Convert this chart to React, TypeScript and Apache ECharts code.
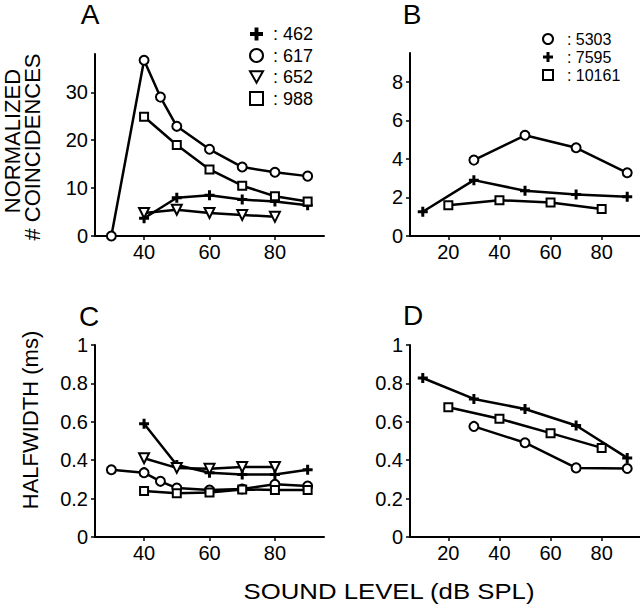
import React, { useEffect, useRef } from "react";
import * as echarts from "echarts";

// ---------- data ----------
// Panel A: normalized # coincidences (low CF units)
const a462X = [40, 50, 60, 70, 80, 90];
const a462Y = [3.7, 8.0, 8.5, 7.6, 7.2, 6.4];
const a617X = [30, 40, 45, 50, 60, 70, 80, 90];
const a617Y = [0, 36.7, 29.0, 22.9, 18.1, 14.4, 13.3, 12.5];
const a652X = [40, 50, 60, 70, 80];
const a652Y = [4.8, 5.5, 4.8, 4.4, 4.0];
const a988X = [40, 50, 60, 70, 80, 90];
const a988Y = [24.9, 19.0, 13.9, 10.5, 8.3, 7.2];

// Panel B: normalized # coincidences (high CF units)
const b5303X = [30, 50, 70, 90];
const b5303Y = [3.94, 5.23, 4.58, 3.28];
const b7595X = [10, 30, 50, 70, 90];
const b7595Y = [1.26, 2.9, 2.35, 2.16, 2.04];
const b10161X = [20, 40, 60, 80];
const b10161Y = [1.6, 1.86, 1.74, 1.4];

// Panel C: halfwidth (ms), low CF units
const c462X = [40, 50, 60, 70, 80, 90];
const c462Y = [0.59, 0.375, 0.335, 0.325, 0.325, 0.35];
const c617X = [30, 40, 45, 50, 60, 70, 80, 90];
const c617Y = [0.35, 0.335, 0.29, 0.255, 0.245, 0.25, 0.275, 0.265];
const c652X = [40, 50, 60, 70, 80];
const c652Y = [0.41, 0.36, 0.355, 0.365, 0.365];
const c988X = [40, 50, 60, 70, 80, 90];
const c988Y = [0.24, 0.228, 0.232, 0.248, 0.245, 0.245];

// Panel D: halfwidth (ms), high CF units
const d5303X = [30, 50, 70, 90];
const d5303Y = [0.576, 0.491, 0.36, 0.357];
const d7595X = [10, 30, 50, 70, 90];
const d7595Y = [0.828, 0.719, 0.667, 0.581, 0.412];
const d10161X = [20, 40, 60, 80];
const d10161Y = [0.676, 0.616, 0.541, 0.464];

// tick values
const xTicksLow = [40, 60, 80];
const xTicksHigh = [20, 40, 60, 80];
const yTicksA = [0, 10, 20, 30];
const yTicksB = [0, 2, 4, 6, 8];
const yTicksHW = [0, 0.2, 0.4, 0.6, 0.8, 1];

const legendLow = ["462", "617", "652", "988"];
const legendHigh = ["5303", "7595", "10161"];

// ---------- styles ----------
const FONT = "'Liberation Sans', Arial, Helvetica, sans-serif";
const PLUS = "path://M3.5,0H6.5V3.5H10V6.5H6.5V10H3.5V6.5H0V3.5H3.5Z";
const TRI = "path://M0,0L10,0L5,8.66Z";
const SQ = "path://M0,0H10V10H0Z";

const pairs = (xs: number[], ys: number[]) => xs.map((x, i) => [x, ys[i]]);

function mk(name: string, idx: number, xs: number[], ys: number[], kind: string) {
  const base: any = {
    name,
    type: "line",
    xAxisIndex: idx,
    yAxisIndex: idx,
    data: pairs(xs, ys),
    lineStyle: { color: "#000", width: 2.5 },
    silent: true,
    emphasis: { disabled: true },
  };
  if (kind === "plus") {
    base.symbol = PLUS;
    base.symbolSize = 10;
    base.itemStyle = { color: "#000", borderWidth: 0 };
    base.z = 3;
  } else {
    base.symbol = kind === "circle" ? "circle" : kind === "tri" ? TRI : SQ;
    base.symbolSize = kind === "circle" ? 9 : kind === "tri" ? 10 : 8;
    base.itemStyle = { color: "#fff", borderColor: "#000", borderWidth: 2 };
  }
  return base;
}

function xAxis(idx: number, min: number, ticks: number[]) {
  return {
    type: "value",
    gridIndex: idx,
    min,
    max: 95,
    splitLine: { show: false },
    axisLine: { show: true, onZero: false, lineStyle: { color: "#000", width: 2 } },
    axisTick: { show: true, length: 4, customValues: ticks, lineStyle: { color: "#000", width: 1.5 } },
    axisLabel: { customValues: ticks, fontSize: 20, color: "#000", fontFamily: FONT, margin: 6 },
  };
}

function yAxis(idx: number, max: number, ticks: number[]) {
  return {
    type: "value",
    gridIndex: idx,
    min: 0,
    max,
    splitLine: { show: false },
    axisLine: { show: true, onZero: false, lineStyle: { color: "#000", width: 2 } },
    axisTick: { show: true, length: 4, customValues: ticks, lineStyle: { color: "#000", width: 1.5 } },
    axisLabel: { customValues: ticks, fontSize: 20, color: "#000", fontFamily: FONT, margin: 7 },
  };
}

const txt = (text: string, x: number, y: number, size: number, rot = 0, sx = 1) => ({
  type: "text",
  x,
  y,
  rotation: rot,
  scaleX: sx,
  silent: true,
  style: {
    text,
    x: 0,
    y: 0,
    fill: "#000",
    font: `${size}px ${FONT}`,
    align: "center",
    verticalAlign: "middle",
  },
});

export default function App() {
  const ref = useRef<HTMLDivElement>(null);
  useEffect(() => {
    if (!ref.current) return;
    const chart = echarts.init(ref.current, undefined, { renderer: "svg" });
    chart.setOption({
      animation: false,
      backgroundColor: "#fff",
      textStyle: { fontFamily: FONT },
      grid: [
        { left: 95, top: 54, width: 229, height: 182 },
        { left: 410, top: 53, width: 230, height: 183 },
        { left: 95, top: 345, width: 229, height: 192 },
        { left: 410, top: 345, width: 230, height: 192 },
      ],
      xAxis: [
        xAxis(0, 25, xTicksLow),
        xAxis(1, 5, xTicksHigh),
        xAxis(2, 25, xTicksLow),
        xAxis(3, 5, xTicksHigh),
      ],
      yAxis: [
        yAxis(0, 38, yTicksA),
        yAxis(1, 9.5, yTicksB),
        yAxis(2, 1, yTicksHW),
        yAxis(3, 1, yTicksHW),
      ],
      legend: [
        {
          orient: "vertical",
          left: 249,
          top: 25,
          padding: 0,
          itemWidth: 13,
          itemHeight: 13,
          itemGap: 3.5,
          selectedMode: false,
          formatter: (n: string) => " : " + n,
          textStyle: { fontSize: 18, color: "#000", fontFamily: FONT },
          data: [
            { name: legendLow[0], icon: PLUS },
            { name: legendLow[1], icon: "circle" },
            { name: legendLow[2], icon: TRI },
            { name: legendLow[3], icon: SQ },
          ],
        },
        {
          orient: "vertical",
          left: 542,
          top: 31,
          padding: 0,
          itemWidth: 10,
          itemHeight: 10,
          itemGap: 2,
          selectedMode: false,
          formatter: (n: string) => "  : " + n,
          textStyle: { fontSize: 16, color: "#000", fontFamily: FONT },
          data: [
            { name: legendHigh[0], icon: "circle" },
            { name: legendHigh[1], icon: PLUS },
            { name: legendHigh[2], icon: SQ },
          ],
        },
      ],
      series: [
        mk(legendLow[0], 0, a462X, a462Y, "plus"),
        mk(legendLow[1], 0, a617X, a617Y, "circle"),
        mk(legendLow[2], 0, a652X, a652Y, "tri"),
        mk(legendLow[3], 0, a988X, a988Y, "square"),
        mk(legendHigh[0], 1, b5303X, b5303Y, "circle"),
        mk(legendHigh[1], 1, b7595X, b7595Y, "plus"),
        mk(legendHigh[2], 1, b10161X, b10161Y, "square"),
        mk(legendLow[0], 2, c462X, c462Y, "plus"),
        mk(legendLow[1], 2, c617X, c617Y, "circle"),
        mk(legendLow[2], 2, c652X, c652Y, "tri"),
        mk(legendLow[3], 2, c988X, c988Y, "square"),
        mk(legendHigh[0], 3, d5303X, d5303Y, "circle"),
        mk(legendHigh[1], 3, d7595X, d7595Y, "plus"),
        mk(legendHigh[2], 3, d10161X, d10161Y, "square"),
      ],
      graphic: [
        txt("A", 90, 14, 28),
        txt("B", 412, 14, 28),
        txt("C", 89, 316, 28),
        txt("D", 413, 315, 28),
        txt("NORMALIZED", 12, 141, 22, Math.PI / 2),
        txt("# COINCIDENCES", 32, 147, 22, Math.PI / 2),
        txt("HALFWIDTH (ms)", 30, 420, 22, Math.PI / 2),
        txt("SOUND LEVEL (dB SPL)", 389, 591, 23, 0, 1.12),
      ],
    });
    return () => chart.dispose();
  }, []);
  return <div ref={ref} style={{ width: 640, height: 608, position: "absolute", left: 0, top: 0 }} />;
}
